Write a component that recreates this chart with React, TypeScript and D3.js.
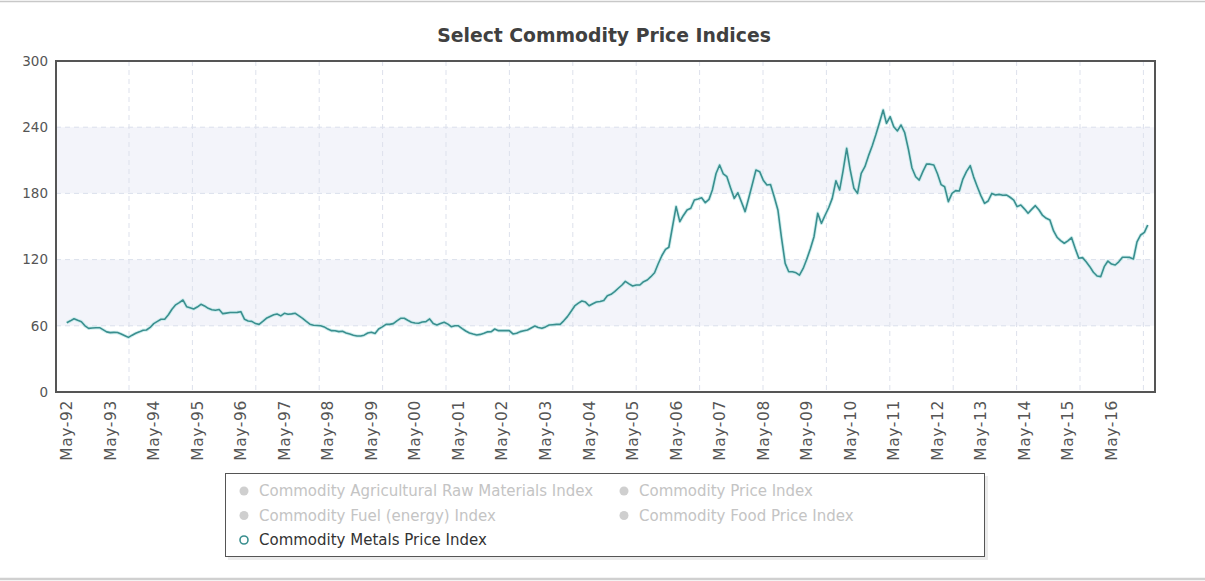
import React, { useEffect } from "react";
import * as d3 from "d3";

const chartTitle = "Select Commodity Price Indices";
const seriesStart = new Date(1992, 4, 1); // May 1992
const seriesEnd = new Date(2017, 2, 1); // Mar 2017

// Commodity Metals Price Index, monthly from May-92
const metals1992 = [62.8, 64.5, 66.4, 65, 63.7, 60, 57.7, 58];
const metals1993 = [58.3, 58.3, 56.5, 54.5, 53.8, 54, 53.9, 52.5, 51, 49.5, 51.5, 53.2];
const metals1994 = [54.5, 56, 56.2, 58.5, 62, 64, 65.9, 66, 70, 75, 79, 81];
const metals1995 = [83.4, 77.3, 76.4, 75.2, 77, 79.5, 78, 75.8, 74.5, 74.1, 74.7, 71];
const metals1996 = [71.5, 72, 72, 72.2, 72.8, 65.9, 64.4, 64, 62, 61.3, 64, 66.8];
const metals1997 = [68.5, 70, 70.7, 69, 71.3, 70.4, 70.8, 71.3, 69, 66.8, 64, 61.5];
const metals1998 = [60.5, 60.3, 60.1, 59, 57, 55.6, 55.5, 54.7, 55, 53.5, 52.6, 51.5];
const metals1999 = [50.8, 50.8, 51.5, 53.5, 54.1, 53, 57.1, 59, 61.3, 61.3, 62, 64.5];
const metals2000 = [66.8, 66.8, 65, 63.2, 62.5, 62.3, 63.5, 63.8, 66.2, 62, 60.7, 62];
const metals2001 = [63.2, 61.5, 59.2, 60, 60, 57.5, 55.3, 53.5, 52.5, 51.7, 52.2, 53.2];
const metals2002 = [54.5, 54.7, 57.1, 55.6, 55.6, 55.6, 55.6, 52.6, 53.2, 54.7, 55.5, 56.2];
const metals2003 = [58, 59.8, 58.5, 57.7, 59, 60.7, 61, 61.3, 61.3, 64.5, 68.3, 73];
const metals2004 = [78, 80.5, 82.5, 81.5, 78.2, 80, 81.6, 82, 83, 87.3, 88.5, 90.9];
const metals2005 = [94, 97, 100.3, 98, 96.1, 97, 97, 100, 101.5, 104.5, 108.1, 116];
const metals2006 = [123.5, 129.3, 131.2, 150, 168, 154.4, 160, 165, 166.5, 174, 175, 176.1];
const metals2007 = [171.6, 174.6, 183.1, 198, 205.7, 197.6, 195.1, 185, 175.5, 180.6, 172, 163.5];
const metals2008 = [176, 189, 201.2, 199.7, 192, 187.6, 188, 177, 165, 140, 116.6, 109];
const metals2009 = [109, 108, 106, 112, 120.3, 130, 140.8, 162, 152.9, 160, 167, 175.5];
const metals2010 = [191.5, 183.1, 200, 220.9, 201.2, 184.6, 180, 198.2, 204.2, 214, 223, 232.9];
const metals2011 = [244, 255.6, 243.5, 249.5, 240.5, 236.6, 242, 235, 220, 203, 195.1, 192.1];
const metals2012 = [200, 206.7, 206.5, 205.7, 198, 188, 186, 172.5, 180, 182.5, 182.2, 193];
const metals2013 = [200, 205.1, 195, 186.1, 178, 171, 173.1, 180, 178.5, 179.1, 178.3, 178.6];
const metals2014 = [176.5, 174, 168, 169.5, 166, 162, 165.5, 168.9, 165, 160, 157.4, 155.9];
const metals2015 = [146, 140, 137.2, 134.8, 137, 139.9, 130.2, 121.2, 121.8, 118, 113.6, 108.5];
const metals2016 = [105.1, 104.6, 113.6, 118.7, 116, 115.1, 118, 122.1, 122.1, 122, 120.6, 136];
const metals2017 = [142.3, 144.7, 151.4];

const metalsIndex = [
  ...metals1992, ...metals1993, ...metals1994, ...metals1995, ...metals1996,
  ...metals1997, ...metals1998, ...metals1999, ...metals2000, ...metals2001,
  ...metals2002, ...metals2003, ...metals2004, ...metals2005, ...metals2006,
  ...metals2007, ...metals2008, ...metals2009, ...metals2010, ...metals2011,
  ...metals2012, ...metals2013, ...metals2014, ...metals2015, ...metals2016,
  ...metals2017,
];

const yTicks = [0, 60, 120, 180, 240, 300];
const xTickYears = d3.range(1992, 2017);

const legendItems = [
  { label: "Commodity Agricultural Raw Materials Index", active: false, col: 0, row: 0 },
  { label: "Commodity Price Index", active: false, col: 1, row: 0 },
  { label: "Commodity Fuel (energy) Index", active: false, col: 0, row: 1 },
  { label: "Commodity Food Price Index", active: false, col: 1, row: 1 },
  { label: "Commodity Metals Price Index", active: true, col: 0, row: 2 },
];

const W = 1205;
const H = 581;
const plot = { left: 56, right: 1155, top: 61, bottom: 392 };
const FONT = "'DejaVu Sans', Verdana, sans-serif";
const LINE = "#3a8f8f";

export default function App() {
  useEffect(() => {
    document.body.style.margin = "0";
  }, []);

  const data = metalsIndex.map((v, i) => ({
    date: d3.timeMonth.offset(seriesStart, i),
    value: v,
  }));

  const x = d3
    .scaleTime()
    .domain([d3.timeMonth.offset(seriesStart, -3), d3.timeMonth.offset(seriesEnd, 2)])
    .range([plot.left, plot.right]);
  const y = d3.scaleLinear().domain([0, 300]).range([plot.bottom, plot.top]);

  const line = d3
    .line<{ date: Date; value: number }>()
    .x((d) => x(d.date))
    .y((d) => y(d.value));
  const path = line(data) || "";

  const gridStep = 63.4;
  const gridXs = d3.range(0, 17).map((k) => plot.left + 73 + k * gridStep).filter((gx) => gx < plot.right - 2);

  const bands = [
    [60, 120],
    [180, 240],
  ];

  return (
    <svg width={W} height={H} style={{ display: "block" }} fontFamily={FONT}>
      <rect x={0} y={0} width={W} height={H} fill="#fff" />
      <line x1={0} x2={W} y1={1.5} y2={1.5} stroke="#c8c8c8" strokeWidth={1.5} />
      <line x1={0} x2={W} y1={579} y2={579} stroke="#d0d0d0" strokeWidth={2.5} />

      <text x={604} y={42} textAnchor="middle" fontSize={18.8} fontWeight="bold" fill="#404040">
        {chartTitle}
      </text>

      {bands.map(([a, b], i) => (
        <rect key={i} x={plot.left} y={y(b)} width={plot.right - plot.left} height={y(a) - y(b)} fill="#f3f4fa" />
      ))}
      {yTicks.filter((t) => t > 0 && t < 300).map((t) => (
        <line key={t} x1={plot.left} x2={plot.right} y1={y(t)} y2={y(t)} stroke="#dbe0ec" strokeDasharray="5,4" />
      ))}
      {gridXs.map((gx, i) => (
        <line key={i} x1={gx} x2={gx} y1={plot.top} y2={plot.bottom} stroke="#dde1ec" strokeDasharray="5,4" />
      ))}

      <path d={path} fill="none" stroke="#bfe8e8" strokeWidth={3.5} strokeLinejoin="round" opacity={0.7} />
      <path d={path} fill="none" stroke={LINE} strokeWidth={1.6} strokeLinejoin="round" />

      <rect
        x={plot.left}
        y={plot.top}
        width={plot.right - plot.left}
        height={plot.bottom - plot.top}
        fill="none"
        stroke="#555"
        strokeWidth={2}
      />

      {yTicks.map((t) => (
        <text key={t} x={48} y={y(t)} dy="0.35em" textAnchor="end" fontSize={13.5} fill="#555">
          {t}
        </text>
      ))}

      {xTickYears.map((yr) => {
        const tx = x(new Date(yr, 4, 1));
        return (
          <text
            key={yr}
            transform={`translate(${tx},400) rotate(-90)`}
            textAnchor="end"
            dy="0.35em"
            fontSize={15.5}
            letterSpacing={0.6}
            fill="#555"
          >
            {`May-${String(yr % 100).padStart(2, "0")}`}
          </text>
        );
      })}

      <g>
        <rect x={228} y={476} width={760} height={84} fill="#ddd" opacity={0.6} />
        <rect x={225.5} y={473.5} width={759} height={83} fill="#fff" stroke="#555" strokeWidth={1} />
        {legendItems.map((it, i) => {
          const mx = 244 + it.col * 380;
          const my = 491 + it.row * 24.5;
          return (
            <g key={i}>
              {it.active ? (
                <circle cx={mx} cy={my} r={4} fill="#fff" stroke={LINE} strokeWidth={1.6} />
              ) : (
                <circle cx={mx} cy={my} r={4.5} fill="#cfcfcf" />
              )}
              <text x={mx + 15} y={my} dy="0.35em" fontSize={15} fill={it.active ? "#333" : "#c4c4c4"}>
                {it.label}
              </text>
            </g>
          );
        })}
      </g>
    </svg>
  );
}
